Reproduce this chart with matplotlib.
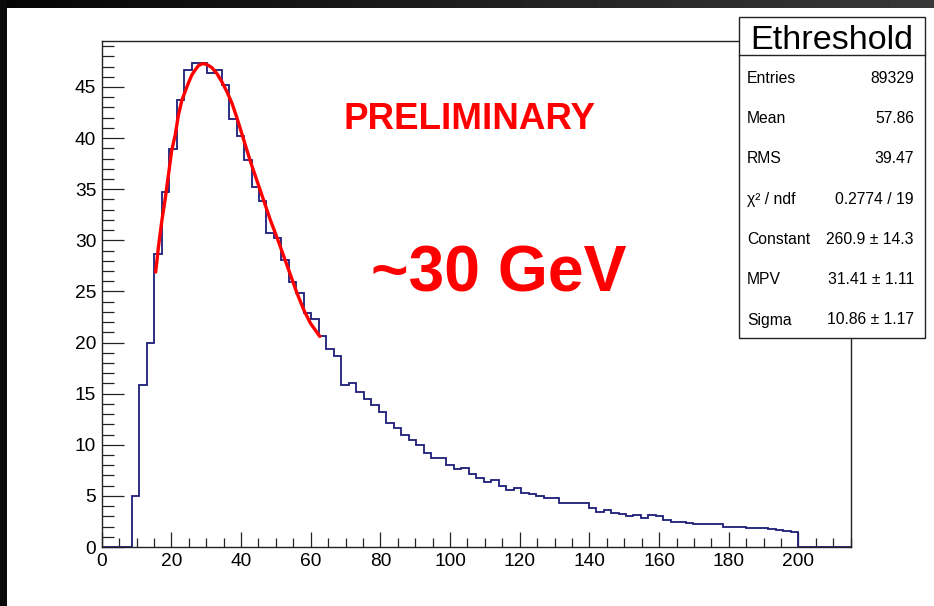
import numpy as np
import matplotlib
matplotlib.use('Agg')
import matplotlib.pyplot as plt
from matplotlib.patches import Rectangle
from matplotlib.lines import Line2D
from matplotlib.ticker import MultipleLocator

plt.rcParams['font.family'] = ['Liberation Sans', 'DejaVu Sans']

# ---------------- data ----------------
x_low = 0.0
x_high = 215.0
n_bins = 100
counts = [0, 0, 0, 0, 5.0, 15.85, 20.0, 28.7, 34.7, 38.9,
          43.7, 46.7, 47.3, 47.3, 46.35, 46.7, 45.2, 41.85, 40.2, 37.9,
          35.25, 33.8, 30.7, 30.25, 28.1, 25.95, 24.85, 22.85, 22.3, 20.6,
          19.4, 18.7, 15.85, 16.0, 15.2, 14.45, 13.9, 13.2, 12.16, 11.65,
          11.0, 10.5, 9.93, 9.17, 8.75, 8.68, 8.05, 7.6, 7.75, 7.18,
          6.72, 6.39, 6.56, 5.93, 5.55, 5.74, 5.28, 5.14, 4.95, 4.76,
          4.76, 4.3, 4.27, 4.27, 4.27, 3.78, 3.38, 3.62, 3.3, 3.21,
          2.99, 3.13, 2.87, 3.13, 3.07, 2.64, 2.48, 2.48, 2.38, 2.25,
          2.25, 2.25, 2.25, 1.99, 1.99, 1.92, 1.83, 1.83, 1.83, 1.73,
          1.66, 1.6, 1.5, 0, 0, 0, 0, 0, 0, 0]

fit_x = [15.5, 16.3, 17.3, 18.2, 19.2, 20.1, 21.1, 22.0, 23.0, 24.0,
         24.9, 25.9, 26.9, 27.8, 29.0, 30.2, 31.6, 33.1, 34.5, 36.0,
         37.4, 38.8, 40.8, 42.7, 44.6, 46.5, 48.4, 50.4, 52.3, 54.2,
         56.1, 58.0, 59.9, 62.6]
fit_y = [26.9, 29.4, 32.0, 34.0, 36.5, 38.8, 40.3, 42.2, 43.7, 44.6,
         45.4, 46.2, 46.7, 47.1, 47.3, 47.2, 46.9, 46.3, 45.5, 44.5,
         43.4, 42.0, 39.8, 37.7, 35.8, 33.9, 32.0, 30.2, 28.4, 26.6,
         24.8, 23.2, 21.9, 20.6]

x_ticks = [0, 20, 40, 60, 80, 100, 120, 140, 160, 180, 200]
y_ticks = [0, 5, 10, 15, 20, 25, 30, 35, 40, 45]
y_max = 49.5

stat_title = "Ethreshold"
stat_labels = ["Entries", "Mean", "RMS", "\u03c7\u00b2 / ndf", "Constant", "MPV", "Sigma"]
stat_values = ["89329", "57.86", "39.47", "0.2774 / 19",
               "260.9 \u00b1 14.3", "31.41 \u00b1 1.11", "10.86 \u00b1 1.17"]
label_prelim = "PRELIMINARY"
label_energy = "~30 GeV"

# ---------------- layout helpers ----------------
W, H = 934, 606
def fx(px):
    return px / W
def fy(py):
    return 1 - py / H

fig = plt.figure(figsize=(W / 100, H / 100), dpi=100)
fig.patch.set_facecolor('white')

# dark screenshot border (top and left)
band = fig.add_axes([0, fy(8), 1, 8 / H])
band.imshow(np.linspace(0.02, 0.22, 256)[None, :], cmap='gray', vmin=0, vmax=1,
            aspect='auto', extent=[0, 1, 0, 1])
band.set_axis_off()
fig.patches.append(Rectangle((0, 0), fx(7), 1, transform=fig.transFigure,
                             facecolor='#0a0a0a', edgecolor='none', zorder=1))

ax = fig.add_axes([fx(101.7), fy(547), fx(850.7) - fx(101.7), fy(41) - fy(547)])
edges = np.linspace(x_low, x_high, n_bins + 1)
ax.stairs(counts, edges, color='#1e1e7a', lw=1.3, zorder=2)
ax.plot(fit_x, fit_y, color='#ff0000', lw=2.4, zorder=3, solid_capstyle='round')

ax.set_xlim(x_low, x_high)
ax.set_ylim(0, y_max)
ax.set_xticks(x_ticks)
ax.set_yticks(y_ticks)
ax.xaxis.set_minor_locator(MultipleLocator(5))
ax.yaxis.set_minor_locator(MultipleLocator(1))
ax.tick_params(axis='x', which='major', direction='in', length=10.8, width=0.9,
               labelsize=13.8, pad=4, top=False, color='#222222')
ax.tick_params(axis='x', which='minor', direction='in', length=6.3, width=0.9,
               top=False, color='#222222')
ax.tick_params(axis='y', which='major', direction='in', length=15.8, width=0.9,
               labelsize=13.8, pad=4, right=False, color='#222222')
ax.tick_params(axis='y', which='minor', direction='in', length=8.6, width=0.9,
               right=False, color='#222222')
for s in ax.spines.values():
    s.set_linewidth(1.0)
    s.set_color('#222222')

# annotations
fig.text(fx(344), fy(129.3), label_prelim, color='#ff0000', fontsize=26.5,
         fontweight='bold', ha='left', va='baseline')
fig.text(fx(371), fy(291.7), label_energy, color='#ff0000', fontsize=46.3,
         fontweight='bold', ha='left', va='baseline')

# statistics box
bx0, by0, bx1, by1 = 739, 17, 925, 338
fig.patches.append(Rectangle((fx(bx0), fy(by1)), fx(bx1) - fx(bx0), fy(by0) - fy(by1),
                             transform=fig.transFigure, facecolor='white',
                             edgecolor='#222222', lw=1.0, zorder=5))
fig.lines.append(Line2D([fx(bx0), fx(bx1)], [fy(55), fy(55)], transform=fig.transFigure,
                        color='#222222', lw=1.0, zorder=6))
fig.text(fx(832), fy(49), stat_title, fontsize=24.6, ha='center', va='baseline', zorder=7)
for i, (lab, val) in enumerate(zip(stat_labels, stat_values)):
    yb = 82.7 + i * 40.3
    fig.text(fx(747), fy(yb), lab, fontsize=11.3, ha='left', va='baseline', zorder=7)
    fig.text(fx(914), fy(yb), val, fontsize=11.3, ha='right', va='baseline', zorder=7)

fig.savefig('out.png', dpi=100, facecolor='white')
